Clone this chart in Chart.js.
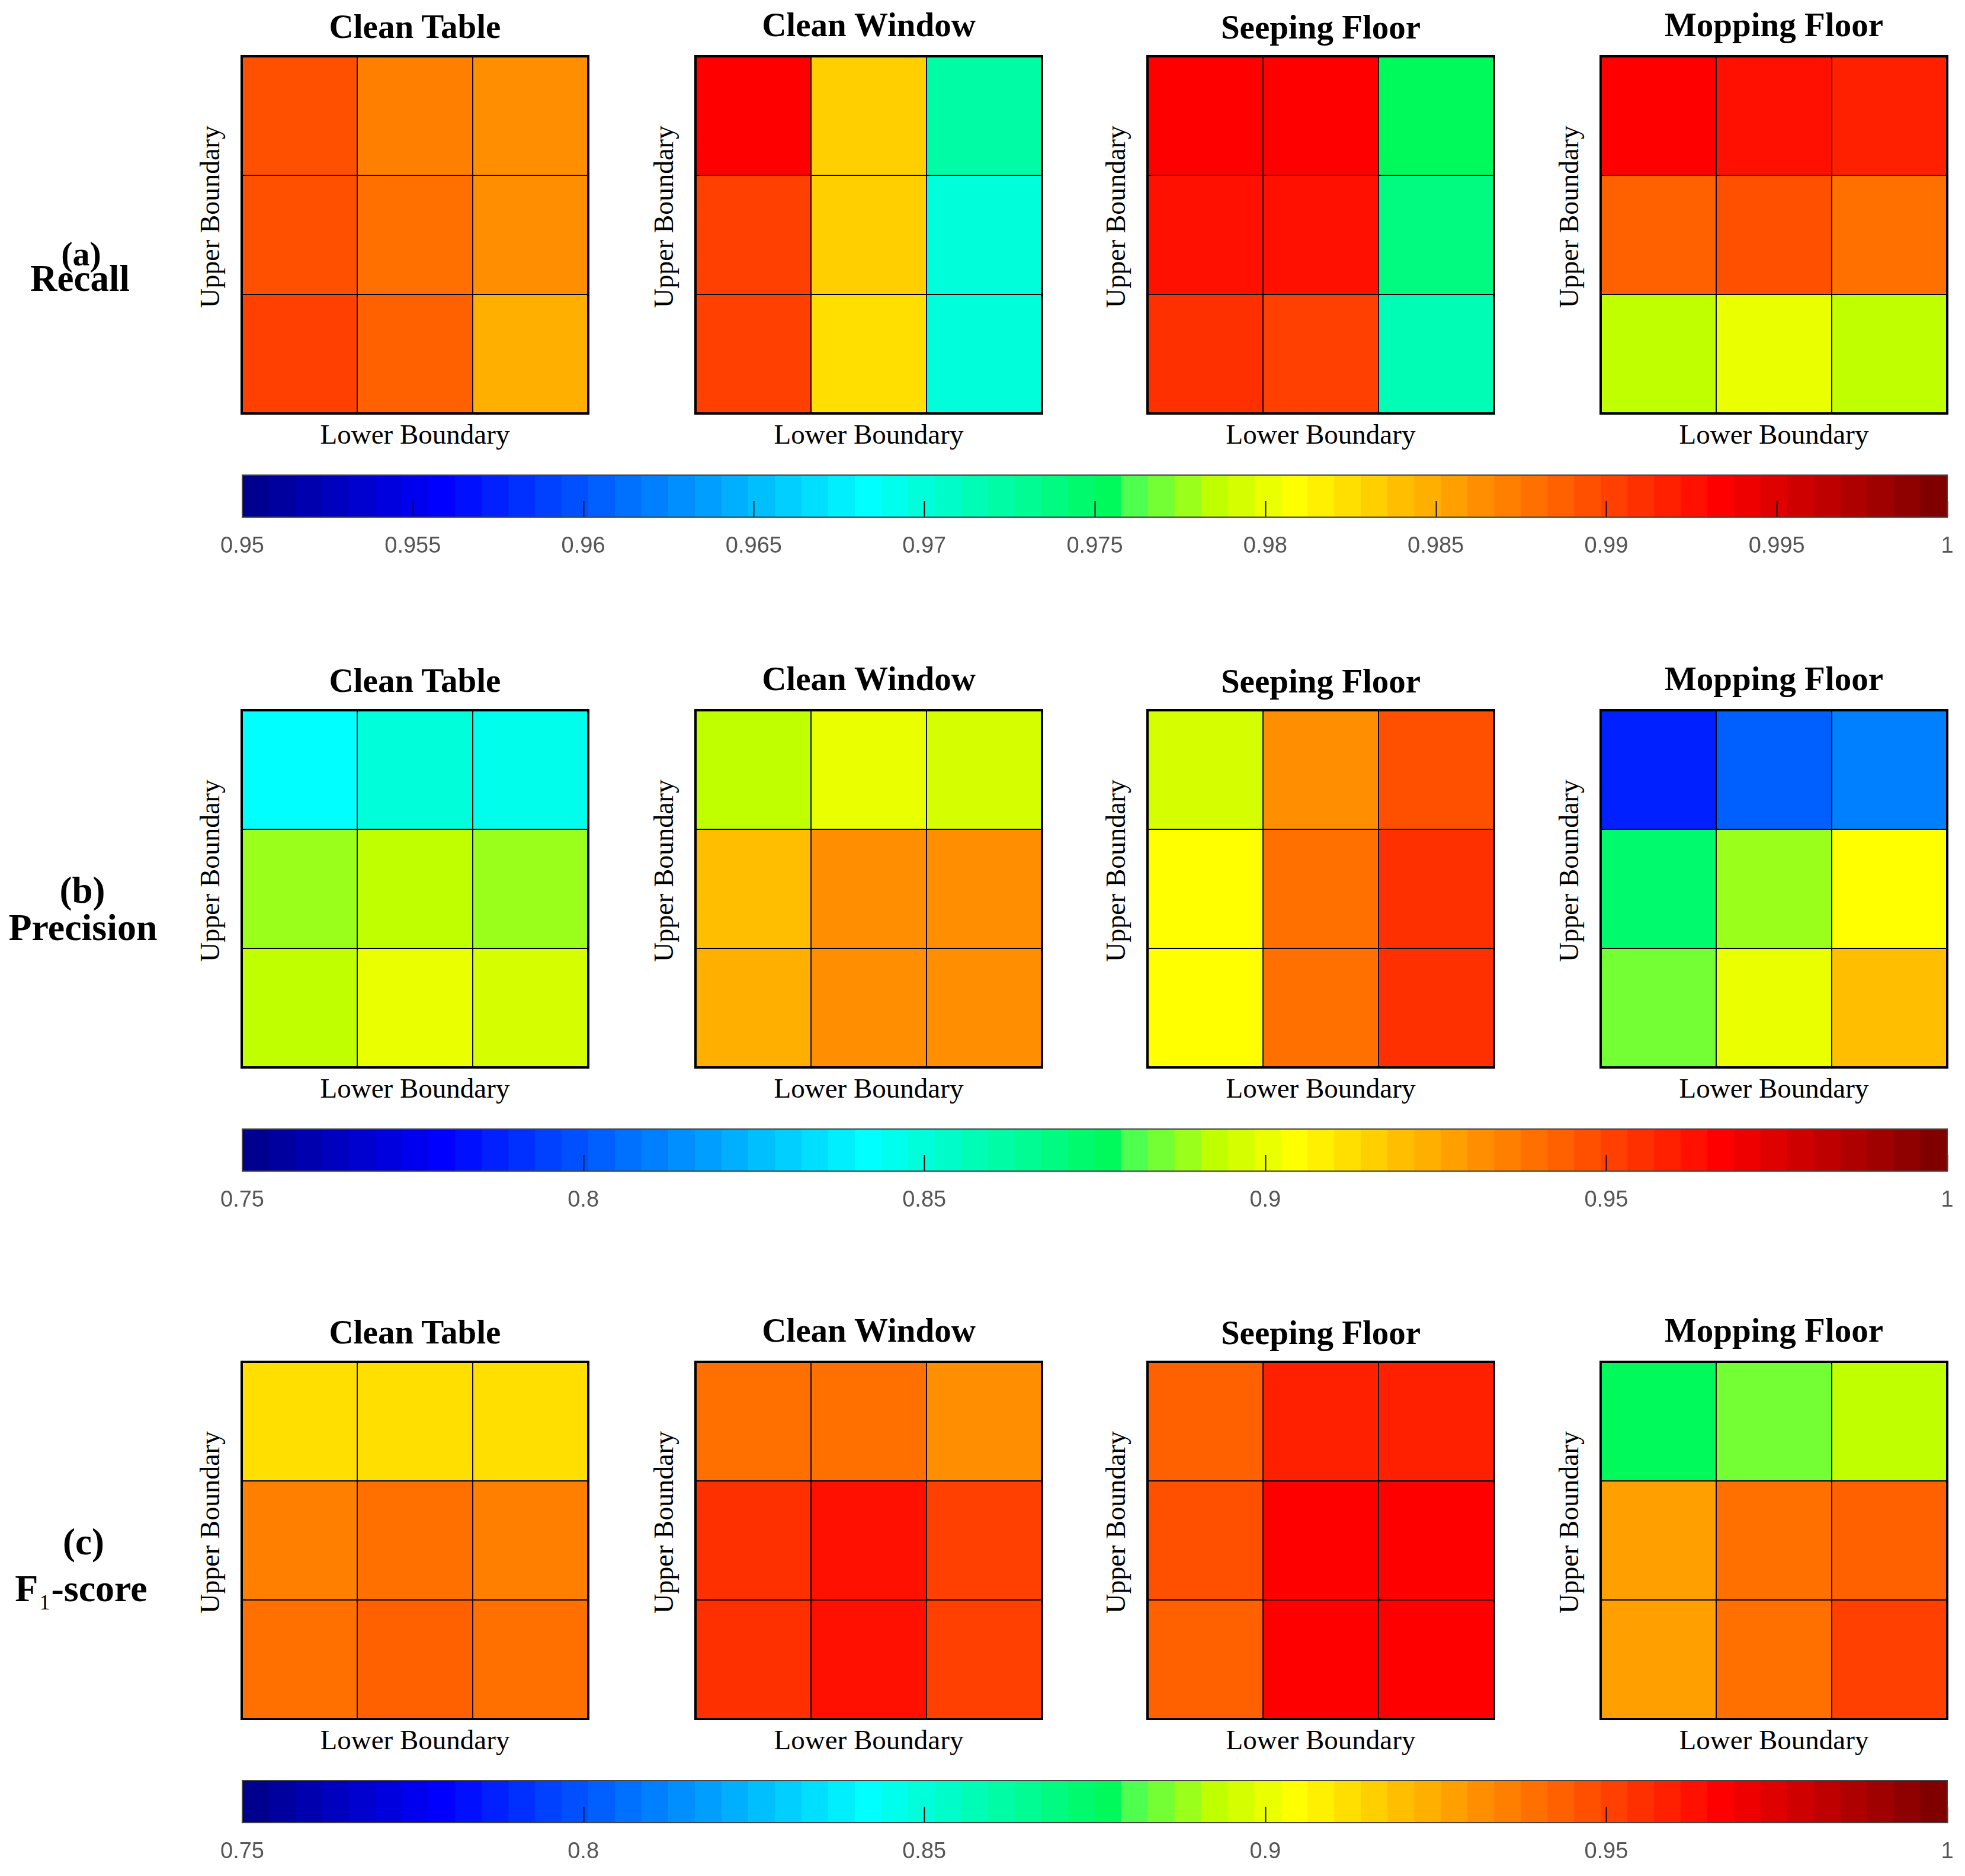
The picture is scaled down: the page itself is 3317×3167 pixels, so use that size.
<!DOCTYPE html>
<html>
<head>
<meta charset="utf-8">
<title>Recall / Precision / F1-score heatmaps</title>
<script src="https://cdn.jsdelivr.net/npm/chart.js@4.4.1/dist/chart.umd.min.js"></script>
<style>
  body { margin: 0; background: #fff; }
  #page { position: relative; width: 3317px; height: 3167px; overflow: hidden; background: #fff; }
  #page canvas { position: absolute; }
  .lbl { position: absolute; white-space: nowrap; line-height: 1; font-family: 'Liberation Serif', 'Times New Roman', serif; color: #000; }
</style>
</head>
<body>
<div id="page"></div>
<script>
// ---------------- data ----------------
const tasks = ['Clean Table', 'Clean Window', 'Seeping Floor', 'Mopping Floor'];
const lowerLevels = ['L1', 'L2', 'L3'];   // columns, "Lower Boundary"
const upperLevels = ['U1', 'U2', 'U3'];   // rows top -> bottom, "Upper Boundary"

// every grid: rows top -> bottom, columns left -> right
const recallCleanTable   = [[0.9895, 0.9871, 0.9863], [0.9895, 0.9879, 0.9863], [0.9902, 0.9887, 0.9848]];
const recallCleanWindow  = [[0.9934, 0.9832, 0.9723], [0.9902, 0.9832, 0.9699], [0.9902, 0.9824, 0.9699]];
const recallSeepingFloor = [[0.9934, 0.9934, 0.9754], [0.9926, 0.9926, 0.9738], [0.9910, 0.9902, 0.9715]];
const recallMoppingFloor = [[0.9934, 0.9926, 0.9918], [0.9887, 0.9895, 0.9879], [0.9785, 0.9801, 0.9785]];

const precisionCleanTable   = [[0.8418, 0.8496, 0.8457], [0.8887, 0.8926, 0.8887], [0.8926, 0.9004, 0.8965]];
const precisionCleanWindow  = [[0.8926, 0.9004, 0.8965], [0.9199, 0.9316, 0.9316], [0.9238, 0.9316, 0.9316]];
const precisionSeepingFloor = [[0.8965, 0.9316, 0.9473], [0.9043, 0.9395, 0.9551], [0.9043, 0.9395, 0.9551]];
const precisionMoppingFloor = [[0.7871, 0.8027, 0.8105], [0.8730, 0.8887, 0.9043], [0.8848, 0.9004, 0.9199]];

const f1CleanTable   = [[0.9121, 0.9121, 0.9121], [0.9355, 0.9395, 0.9355], [0.9395, 0.9434, 0.9395]];
const f1CleanWindow  = [[0.9395, 0.9395, 0.9316], [0.9551, 0.9629, 0.9512], [0.9551, 0.9629, 0.9512]];
const f1SeepingFloor = [[0.9434, 0.9590, 0.9590], [0.9473, 0.9668, 0.9668], [0.9434, 0.9668, 0.9668]];
const f1MoppingFloor = [[0.8770, 0.8848, 0.8926], [0.9277, 0.9395, 0.9434], [0.9277, 0.9395, 0.9512]];

const recallTicks = [0.95, 0.955, 0.96, 0.965, 0.97, 0.975, 0.98, 0.985, 0.99, 0.995, 1];
const recallTickLabels = ['0.95', '0.955', '0.96', '0.965', '0.97', '0.975', '0.98', '0.985', '0.99', '0.995', '1'];
const scoreTicks = [0.75, 0.8, 0.85, 0.9, 0.95, 1];
const scoreTickLabels = ['0.75', '0.8', '0.85', '0.9', '0.95', '1'];

// ---------------- colour map (jet-like, 64 steps) ----------------
// anchors: [index, r, g, b]
const jetAnchors = [
  [0, 0, 0, 0.5625], [7, 0, 0, 1], [23, 0, 1, 1], [32, 0, 0.98, 0.36],
  [33, 0.31, 1, 0.31], [36, 0.75, 1, 0], [39, 1, 1, 0], [55, 1, 0, 0], [63, 0.5, 0, 0]
];
const palette = [];
for (let i = 0; i < 64; i++) {
  let k = 0;
  while (k < jetAnchors.length - 2 && i > jetAnchors[k + 1][0]) k++;
  const a = jetAnchors[k], b = jetAnchors[k + 1];
  const f = (i - a[0]) / (b[0] - a[0]);
  const c = [1, 2, 3].map(j => Math.round(255 * (a[j] + (b[j] - a[j]) * f)));
  palette.push('rgb(' + c.join(',') + ')');
}
function colourFor(v, min, max) {
  let i = Math.floor((v - min) / (max - min) * palette.length);
  return palette[Math.max(0, Math.min(palette.length - 1, i))];
}

// ---------------- layout ----------------
const page = document.getElementById('page');
const PANEL_W = 585, PANEL_H = 603, PAD = 4;
const panelLeft = [408, 1174, 1937, 2702];
const titleShift = [-31, -34, -30, -34];
const BAR_LEFT = 409, BAR_W = 2878, SIDE = 60;

const rows = [
  { cells: [recallCleanTable, recallCleanWindow, recallSeepingFloor, recallMoppingFloor],
    min: 0.95, max: 1, ticks: recallTicks, tickLabels: recallTickLabels, top: 95,
    tag: ['(a)', 449, 137, 58], name: ['Recall', 492, 135, 63] },
  { cells: [precisionCleanTable, precisionCleanWindow, precisionSeepingFloor, precisionMoppingFloor],
    min: 0.75, max: 1, ticks: scoreTicks, tickLabels: scoreTickLabels, top: 1199,
    tag: ['(b)', 1525, 139, 63], name: ['Precision', 1588, 140, 64] },
  { cells: [f1CleanTable, f1CleanWindow, f1SeepingFloor, f1MoppingFloor],
    min: 0.75, max: 1, ticks: scoreTicks, tickLabels: scoreTickLabels, top: 2299,
    tag: ['(c)', 2625, 141, 63],
    name: ['F<span style="font-size:36px;font-weight:normal;position:relative;top:14px;margin:0 2px">1</span>-score', 2704, 137, 64] }
];

function addText(html, cx, baseline, size, weight) {
  const d = document.createElement('div');
  d.className = 'lbl';
  d.innerHTML = html;
  d.style.fontSize = size + 'px';
  d.style.fontWeight = weight;
  d.style.left = cx + 'px';
  d.style.top = (baseline - 0.8375 * size) + 'px';
  d.style.transform = 'translateX(-50%)';
  page.appendChild(d);
}

function addVerticalText(text, cx, cy, size) {
  const d = document.createElement('div');
  d.className = 'lbl';
  d.textContent = text;
  d.style.fontSize = size + 'px';
  d.style.left = (cx - 0.1175 * size) + 'px';
  d.style.top = cy + 'px';
  d.style.transform = 'translate(-50%, -50%) rotate(-90deg)';
  page.appendChild(d);
}

function makeCanvas(left, top, w, h) {
  const c = document.createElement('canvas');
  c.width = w; c.height = h;
  c.style.left = left + 'px'; c.style.top = top + 'px';
  page.appendChild(c);
  return c;
}

// black frame round a heatmap
const boxPlugin = {
  id: 'box',
  afterDraw(chart) {
    const { ctx, chartArea: a } = chart;
    ctx.save();
    ctx.strokeStyle = '#000';
    ctx.lineWidth = 4;
    ctx.strokeRect(a.left, a.top, a.width, a.height);
    ctx.restore();
  }
};

// inner tick marks + frame of a colour bar
const barTicksPlugin = {
  id: 'barTicks',
  afterDatasetsDraw(chart) {
    const { ctx, chartArea: a } = chart;
    const xs = chart.scales.x;
    ctx.save();
    ctx.strokeStyle = '#111';
    ctx.lineWidth = 2;
    xs.ticks.forEach(t => {
      const x = Math.round(xs.getPixelForValue(t.value)) + 0.5;
      ctx.beginPath();
      ctx.moveTo(x, a.bottom);
      ctx.lineTo(x, a.bottom - 27);
      ctx.stroke();
    });
    ctx.strokeStyle = '#444';
    ctx.lineWidth = 2;
    ctx.strokeRect(a.left, a.top, a.width, a.height);
    ctx.restore();
  }
};

function drawHeatmap(cells, min, max, left, top) {
  const canvas = makeCanvas(left - PAD, top - PAD, PANEL_W + 2 * PAD, PANEL_H + 2 * PAD);
  // datasets stack from the bottom, so the bottom row goes first
  const datasets = cells.map((row, r) => ({
    label: upperLevels[r],
    data: row.map(() => 1),
    backgroundColor: row.map(v => colourFor(v, min, max)),
    borderColor: '#000',
    borderWidth: 1.25,
    borderSkipped: false,
    barPercentage: 1,
    categoryPercentage: 1
  })).reverse();
  new Chart(canvas, {
    type: 'bar',
    data: { labels: lowerLevels, datasets: datasets },
    options: {
      responsive: false, animation: false, devicePixelRatio: 1,
      layout: { padding: PAD },
      plugins: { legend: { display: false }, tooltip: { enabled: false } },
      scales: {
        x: { stacked: true, display: false },
        y: { stacked: true, display: false, min: 0, max: upperLevels.length }
      }
    },
    plugins: [boxPlugin]
  });
}

function drawColourbar(min, max, ticks, tickLabels, top) {
  const canvas = makeCanvas(BAR_LEFT - SIDE, top - 4, BAR_W + 2 * SIDE, 150);
  const step = (max - min) / palette.length;
  new Chart(canvas, {
    type: 'bar',
    data: {
      datasets: [{
        data: palette.map((c, i) => ({ x: min + (i + 0.5) * step, y: 1 })),
        backgroundColor: palette,
        borderWidth: 0,
        barPercentage: 1,
        categoryPercentage: 1
      }]
    },
    options: {
      responsive: false, animation: false, devicePixelRatio: 1,
      layout: { padding: { left: SIDE, right: SIDE, top: 4, bottom: 4 } },
      plugins: { legend: { display: false }, tooltip: { enabled: false } },
      scales: {
        x: {
          type: 'linear', min: min, max: max, offset: false,
          grid: { display: false }, border: { display: false },
          afterBuildTicks: s => { s.ticks = ticks.map(v => ({ value: v })); },
          ticks: {
            autoSkip: false, maxRotation: 0, padding: 19,
            color: '#555',
            font: { family: "'Liberation Sans', Arial, sans-serif", size: 38 },
            callback: (v, i) => tickLabels[i]
          }
        },
        y: { display: false, min: 0, max: 1 }
      }
    },
    plugins: [barTicksPlugin]
  });
}

rows.forEach(row => {
  row.cells.forEach((cells, p) => {
    const left = panelLeft[p];
    const cx = left + PANEL_W / 2;
    drawHeatmap(cells, row.min, row.max, left, row.top);
    addText(tasks[p], cx, row.top + titleShift[p], 57, 'bold');
    addText('Lower Boundary', cx, row.top + PANEL_H + 51, 47, 'normal');
    addVerticalText('Upper Boundary', left - 48, row.top + 271, 46);
  });
  drawColourbar(row.min, row.max, row.ticks, row.tickLabels, row.top + 707);
  addText(row.tag[0], row.tag[2], row.tag[1], row.tag[3], 'bold');
  addText(row.name[0], row.name[2], row.name[1], row.name[3], 'bold');
});
</script>
</body>
</html>
